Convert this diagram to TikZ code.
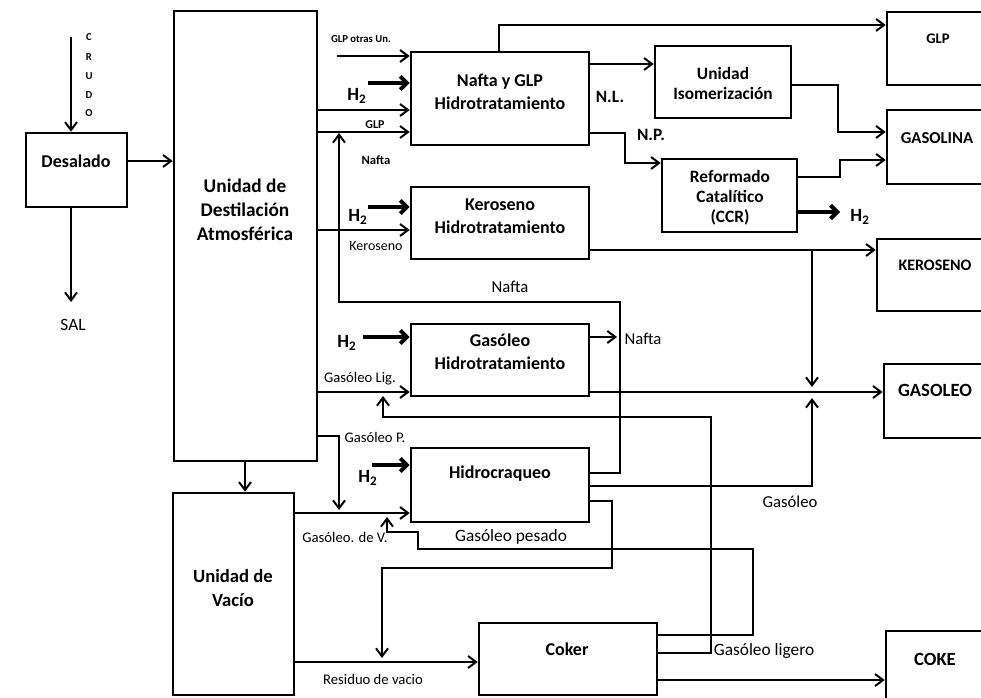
\documentclass[tikz,border=0pt]{standalone}
\usepackage{fontspec}
\setmainfont{Carlito}
\usetikzlibrary{arrows.meta,fit}
\begin{document}
\begin{tikzpicture}[x=0.75pt,y=-0.75pt,
  box/.style={draw,line width=1.9pt,inner sep=0pt},
  conn/.style={line width=1.5pt},
  arr/.style={conn,-{Straight Barb[length=6pt,width=9pt]}},
  harr/.style={line width=3pt,-{Straight Barb[length=5pt,width=10pt]}},
  txt/.style={inner sep=0pt,align=center},
  unit/.style={txt,font=\bfseries\fontsize{13.5}{17}\selectfont},
  prod/.style={txt,font=\bfseries\fontsize{#1}{14}\selectfont},
  flow/.style={txt,font=\fontsize{#1}{12}\selectfont},
  bflow/.style={txt,font=\bfseries\fontsize{#1}{12}\selectfont},
  hyd/.style={txt,font=\bfseries\fontsize{14}{15}\selectfont},
  tag/.style={txt,font=\bfseries\fontsize{13}{15}\selectfont},
  letter/.style={txt,font=\bfseries\fontsize{8}{9}\selectfont}]

\useasboundingbox (0,0) rectangle (981,698);
\fill[white] (0,0) rectangle (981,698);
\clip (0,0) rectangle (981,698);

% ---------- process units ----------
\node[box,fit={(26,133)(127,207)}] (desal) {};
\node[box,fit={(174,11)(317,461)}] (uda) {};
\node[box,fit={(173,493)(294,695)}] (vac) {};
\node[box,fit={(411,52)(589,145)}] (naf) {};
\node[box,fit={(411,187)(589,259)}] (ker) {};
\node[box,fit={(411,324)(589,396)}] (gsh) {};
\node[box,fit={(411,448)(589,522)}] (hcr) {};
\node[box,fit={(479,623)(657,695)}] (cok) {};
\node[box,fit={(655,46)(791,118)}] (iso) {};
\node[box,fit={(662,159)(797,232)}] (ref) {};

% ---------- final products ----------
\node[box,fit={(887,12)(1000,85)}] (oglp) {};
\node[box,fit={(887,110)(1000,184)}] (ogas) {};
\node[box,fit={(877,239)(1000,311)}] (oker) {};
\node[box,fit={(884,364)(1000,438)}] (ogsl) {};
\node[box,fit={(886,631)(1000,720)}] (ocok) {};

% ---------- unit labels ----------
\node[unit] (desal-t) at (76,161) {Desalado};
\node[unit,font=\bfseries\fontsize{14.5}{18}\selectfont] (uda-t) at (245,210) {Unidad de\\Destilación\\Atmosférica};
\node[unit,font=\bfseries\fontsize{14}{17.5}\selectfont] (vac-t) at (233,588) {Unidad de\\Vacío};
\node[unit] (naf-t) at (500,92) {Nafta y GLP\\Hidrotratamiento};
\node[unit] (ker-t) at (500,216) {Keroseno\\Hidrotratamiento};
\node[unit] (gsh-t) at (500,352) {Gasóleo\\Hidrotratamiento};
\node[unit] (hcr-t) at (500,474) {Hidrocraqueo};
\node[unit] (cok-t) at (567,649) {Coker};
\node[unit,font=\bfseries\fontsize{13}{15}\selectfont] (iso-t) at (723,83) {Unidad\\Isomerización};
\node[unit,font=\bfseries\fontsize{13}{15}\selectfont] (ref-t) at (730,198) {Reformado\\Catalítico\\(CCR)};

\node[prod=11] (oglp-t) at (938,39) {GLP};
\node[prod=12.5] (ogas-t) at (937,138) {GASOLINA};
\node[prod=12] (oker-t) at (935,265) {KEROSENO};
\node[prod=14] (ogsl-t) at (935,390) {GASOLEO};
\node[prod=14] (ocok-t) at (935,659) {COKE};

% ---------- crude feed and salt ----------
\node[letter] (c1) at (89,37) {C};
\node[letter] (c2) at (89,57) {R};
\node[letter] (c3) at (89,76) {U};
\node[letter] (c4) at (89,95) {D};
\node[letter] (c5) at (89,113) {O};
\coordinate (crudo) at (71,37);
\draw[arr] (crudo) -- (desal.north -| crudo);
\coordinate (sal) at (71,302);
\draw[arr] (desal.south -| sal) -- (sal);
\node[flow=13] (sal-t) at (73,325) {SAL};
\draw[arr] (desal.east |- 0,161) -- (uda.west |- 0,161);
\draw[arr] (uda.south -| 245,0) -- (vac.north -| 245,0);

% ---------- naphtha and LPG hydrotreating ----------
\coordinate (glpin) at (337,56);
\draw[arr] (glpin) -- (naf.west |- glpin);
\node[bflow=8] (glpin-t) at (361,39) {GLP otras Un.};
\coordinate (h2a) at (368,83);
\draw[harr] (h2a) -- (naf.west |- h2a);
\node[hyd] (h2a-t) at (357,96) {H\textsubscript{2}};
\draw[arr] (uda.east |- 0,110) -- (naf.west |- 0,110);
\draw[arr] (uda.east |- 0,132) -- (naf.west |- 0,132);
\node[bflow=9] (glp-t) at (375,125) {GLP};
\node[bflow=9.5] (naf1-t) at (376,160) {Nafta};
\draw[arr] (naf.north -| 499,0) |- (oglp.west |- 0,25);
\draw[arr] (naf.east |- 0,64) -- (iso.west |- 0,64);
\node[tag] (nl-t) at (610,97) {N.L.};
\draw[arr] (naf.east |- 0,133) -| (625,163) -- (ref.west |- 0,163);
\node[tag] (np-t) at (651,135) {N.P.};
\draw[arr] (iso.east |- 0,85) -| (838,132) -- (ogas.west |- 0,132);
\draw[arr] (ref.east |- 0,177) -| (840,160) -- (ogas.west |- 0,160);
\coordinate (h2out) at (840,212);
\draw[harr] (ref.east |- h2out) -- (h2out);
\node[hyd] (h2out-t) at (860,217) {H\textsubscript{2}};

% ---------- kerosene hydrotreating ----------
\coordinate (h2b) at (368,207);
\draw[harr] (h2b) -- (ker.west |- h2b);
\node[hyd] (h2b-t) at (358,217) {H\textsubscript{2}};
\draw[arr] (uda.east |- 0,230) -- (ker.west |- 0,230);
\node[flow=10.5] (ker1-t) at (376,246) {Keroseno};
\draw[arr] (ker.east |- 0,250) -- (oker.west |- 0,250);
\coordinate (kj) at (812,250);
\coordinate (kjend) at (812,387);
\draw[arr] (kj) -- (kjend);

% ---------- gas oil hydrotreating ----------
\coordinate (h2c) at (363,337);
\draw[harr] (h2c) -- (gsh.west |- h2c);
\node[hyd] (h2c-t) at (347,343) {H\textsubscript{2}};
\draw[arr] (uda.east |- 0,392) -- (gsh.west |- 0,392);
\node[flow=11] (gl-t) at (360,379) {Gasóleo Lig.};
\coordinate (naf3) at (617,337);
\draw[arr] (gsh.east |- naf3) -- (naf3);
\node[flow=12.5] (naf3-t) at (643,339) {Nafta};
\draw[arr] (gsh.east |- 0,392) -- (ogsl.west |- 0,392);

% ---------- hydrocracking ----------
\draw[arr] (uda.east |- 0,436) -| (339,510);
\node[flow=11] (gp-t) at (375,437) {Gasóleo P.};
\draw[arr] (vac.east |- 0,513) -- (hcr.west |- 0,513);
\node[flow=11] (gv-t) at (345,537) {Gasóleo. de V.};
\coordinate (h2d) at (372,465);
\draw[harr] (h2d) -- (hcr.west |- h2d);
\node[hyd] (h2d-t) at (368,478) {H\textsubscript{2}};
\draw[arr] (hcr.east |- 0,473) -| (620,302) -| (339,133);
\node[flow=12.5] (naf2-t) at (510,287) {Nafta};
\draw[arr] (hcr.east |- 0,486) -| (812,398);
\node[flow=12.5] (go-t) at (790,502) {Gasóleo};
\draw[arr] (hcr.east |- 0,501) -| (612,568) -| (382,658);

% ---------- vacuum residue and coker ----------
\draw[arr] (vac.east |- 0,662) -- (cok.west |- 0,662);
\node[flow=11] (rv-t) at (373,679) {Residuo de vacio};
\draw[arr] (cok.east |- 0,635) -| (753,549) -| (418,532) -| (387,517);
\node[flow=13] (gpes-t) at (511,537) {Gasóleo pesado};
\draw[arr] (cok.east |- 0,653) -| (711,417) -| (383,396);
\node[flow=13] (glig-t) at (764,651) {Gasóleo ligero};
\draw[arr] (cok.east |- 0,680) -- (ocok.west |- 0,680);
\end{tikzpicture}
\end{document}
